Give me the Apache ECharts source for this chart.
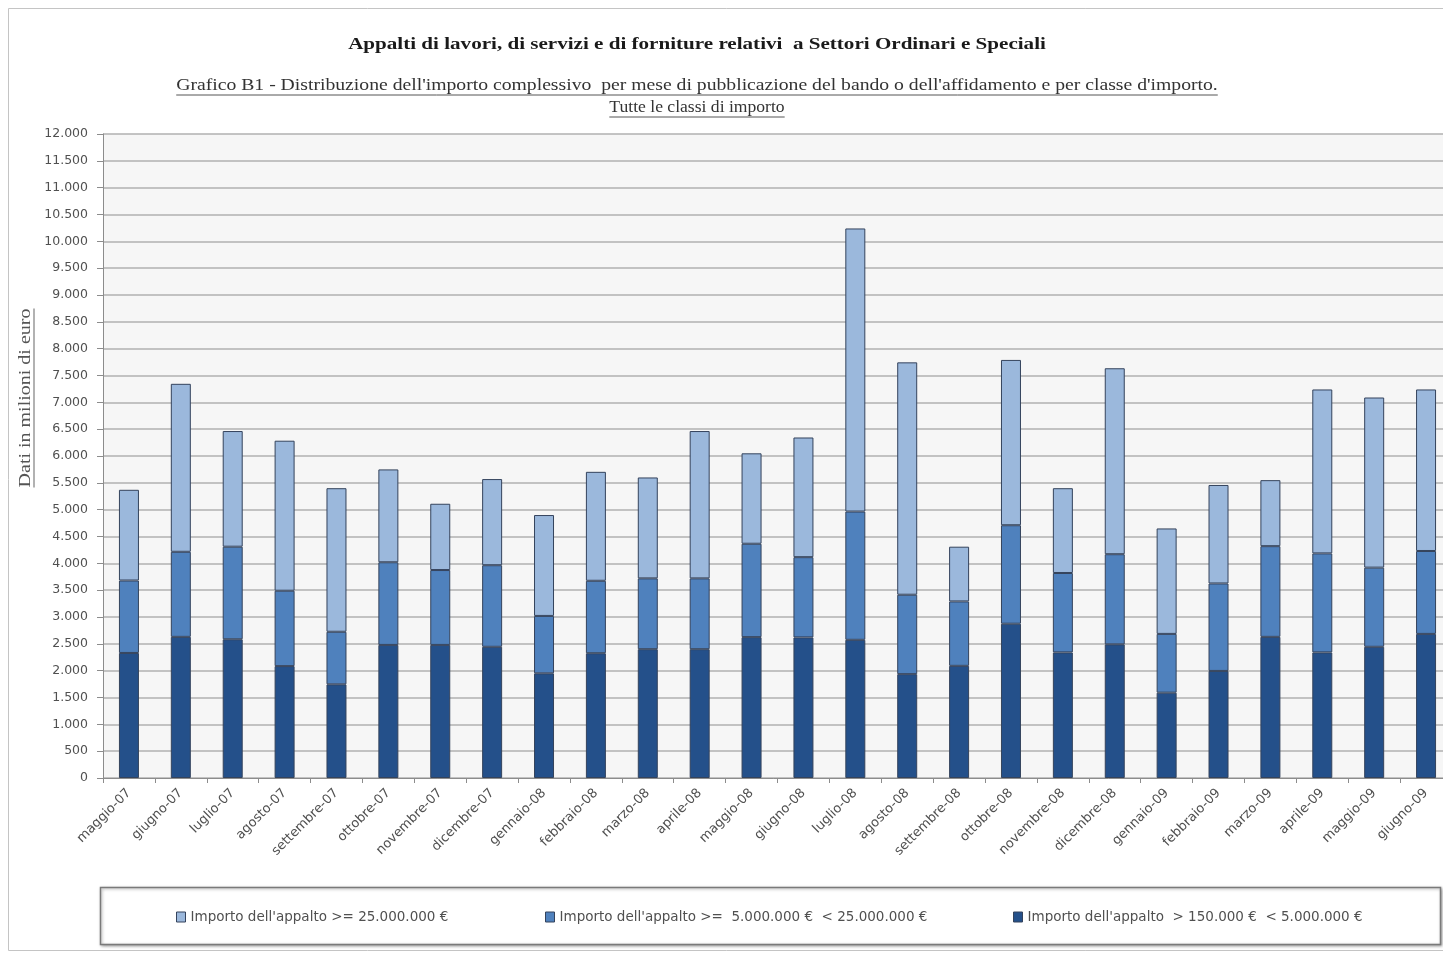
<!DOCTYPE html>
<html><head><meta charset="utf-8">
<script src="https://cdn.jsdelivr.net/npm/echarts@6/dist/echarts.min.js"></script>
<style>html,body{margin:0;padding:0;background:#fff}#c{width:1443px;height:956px}</style>
</head><body><div id="c"></div>
<script>
const categories = ['maggio-07','giugno-07','luglio-07','agosto-07','settembre-07','ottobre-07','novembre-07','dicembre-07','gennaio-08','febbraio-08','marzo-08','aprile-08','maggio-08','giugno-08','luglio-08','agosto-08','settembre-08','ottobre-08','novembre-08','dicembre-08','gennaio-09','febbraio-09','marzo-09','aprile-09','maggio-09','giugno-09'];
const darkValues  = [2330,2630,2585,2085,1745,2480,2480,2445,1950,2325,2400,2400,2625,2620,2575,1935,2090,2875,2340,2490,1590,1995,2630,2340,2445,2685];
const midValues   = [1350,1585,1725,1405,980,1540,1395,1520,1070,1350,1320,1320,1740,1495,2390,1480,1200,1835,1480,1680,1095,1630,1690,1845,1475,1545];
const lightValues = [1690,3130,2155,2795,2675,1730,1235,1605,1880,2030,1880,2745,1685,2230,5275,4330,1020,3080,1580,3465,1965,1835,1230,3055,3170,3010];
const seriesNames = [
  "Importo dell'appalto >= 25.000.000 €",
  "Importo dell'appalto >=  5.000.000 €  < 25.000.000 €",
  "Importo dell'appalto  > 150.000 €  < 5.000.000 €"
];
const titleText = "Appalti di lavori, di servizi e di forniture relativi  a Settori Ordinari e Speciali";
const subtitleText = "Grafico B1 - Distribuzione dell'importo complessivo  per mese di pubblicazione del bando o dell'affidamento e per classe d'importo.";
const subtitle2Text = "Tutte le classi di importo";
const yAxisName = "Dati in milioni di euro";
const yMin = 0, yMax = 12000, yStep = 500;

const colors = {light:'#9bb8dc', mid:'#4f81bd', dark:'#24508a'};
const serif = "'Liberation Serif', 'DejaVu Serif', serif";
const sans = "'DejaVu Sans', sans-serif";

function tw(text, font){ const c=document.createElement('canvas').getContext('2d'); c.font=font; return c.measureText(text).width; }

const titleFont = "bold 17px " + serif;
const subFont = "16px " + serif;
const cx = 697;
const subScale = 1.23, sub2Scale = 1.1, titleScale = 1.24, yNameScale = 1.25;
const subW = tw(subtitleText, subFont) * subScale;
const sub2W = tw(subtitle2Text, subFont) * sub2Scale;
const yNameW = tw(yAxisName, subFont);

const chart = echarts.init(document.getElementById('c'), null, {renderer:'canvas'});
const barStyle = (c)=>({color:c, borderColor:'#34435c', borderWidth:1});
chart.setOption({
  animation:false,
  backgroundColor:'#ffffff',
  grid:{left:103, top:134, width:1349, height:644, show:true, backgroundColor:'#f6f6f6', borderWidth:0, outerBoundsMode:'none', containLabel:false},
  xAxis:{type:'category', data:categories,
    axisLine:{show:true, lineStyle:{color:'#8c8c8c', width:1}},
    axisTick:{show:true, length:5, alignWithLabel:false, lineStyle:{color:'#8c8c8c'}},
    axisLabel:{rotate:45, margin:13, fontFamily:sans, fontSize:13, color:'#505050', interval:0},
    splitLine:{show:false}},
  yAxis:{type:'value', min:yMin, max:yMax, interval:yStep,
    axisLine:{show:true, lineStyle:{color:'#8c8c8c', width:1}},
    axisTick:{show:true, length:6, inside:false, lineStyle:{color:'#8c8c8c'}},
    axisLabel:{margin:15, fontFamily:sans, fontSize:12.5, color:'#505050',
      formatter:v=>String(v).replace(/\B(?=(\d{3})+(?!\d))/g,'.')},
    splitLine:{show:true, lineStyle:{color:'#b0b0b0', width:1.5}}},
  legend:[
    {data:[seriesNames[0]], left:176, top:910},
    {data:[seriesNames[1]], left:545, top:910},
    {data:[seriesNames[2]], left:1013, top:910}
  ].map(l=>Object.assign(l,{icon:'rect', itemWidth:9, itemHeight:10, itemGap:6, padding:0,
      textStyle:{fontFamily:sans, fontSize:13.5, color:'#505050'},
      itemStyle:{borderColor:'#34435c', borderWidth:1}})),
  series:[
    {name:seriesNames[2], type:'bar', stack:'t', data:darkValues, barWidth:20, itemStyle:barStyle(colors.dark)},
    {name:seriesNames[1], type:'bar', stack:'t', data:midValues, barWidth:20, itemStyle:barStyle(colors.mid)},
    {name:seriesNames[0], type:'bar', stack:'t', data:lightValues, barWidth:20, itemStyle:barStyle(colors.light)}
  ],
  graphic:[
    {type:'rect', silent:true, z:-1, shape:{x:8.5,y:8.5,width:1450,height:942}, style:{fill:'none', stroke:'#c4c4c4', lineWidth:1}},
    {type:'rect', silent:true, shape:{x:100.5,y:887.5,width:1340,height:57}, style:{fill:'#ffffff', stroke:'#7a7a7a', lineWidth:1.5, shadowBlur:3, shadowOffsetX:1, shadowOffsetY:1, shadowColor:'rgba(0,0,0,0.35)'}, z:-1},
    {type:'text', silent:true, x:cx, y:45, scaleX:titleScale, style:{text:titleText, font:titleFont, fill:'#1a1a1a', align:'center', verticalAlign:'middle'}},
    {type:'text', silent:true, x:cx, y:86, scaleX:subScale, style:{text:subtitleText, font:subFont, fill:'#333', align:'center', verticalAlign:'middle'}},
    {type:'line', silent:true, shape:{x1:cx-subW/2, y1:95, x2:cx+subW/2, y2:95}, style:{stroke:'#555', lineWidth:1}},
    {type:'text', silent:true, x:cx, y:108, scaleX:sub2Scale, style:{text:subtitle2Text, font:subFont, fill:'#333', align:'center', verticalAlign:'middle'}},
    {type:'line', silent:true, shape:{x1:cx-sub2W/2, y1:117, x2:cx+sub2W/2, y2:117}, style:{stroke:'#555', lineWidth:1}},
    {type:'group', silent:true, x:26, y:398, rotation:Math.PI/2, scaleX:yNameScale, children:[
      {type:'text', x:0, y:0, style:{text:yAxisName, font:subFont, fill:'#555', align:'center', verticalAlign:'middle'}},
      {type:'line', shape:{x1:-yNameW/2, y1:8, x2:yNameW/2, y2:8}, style:{stroke:'#666', lineWidth:1}}
    ]}
  ]
});
</script></body></html>
